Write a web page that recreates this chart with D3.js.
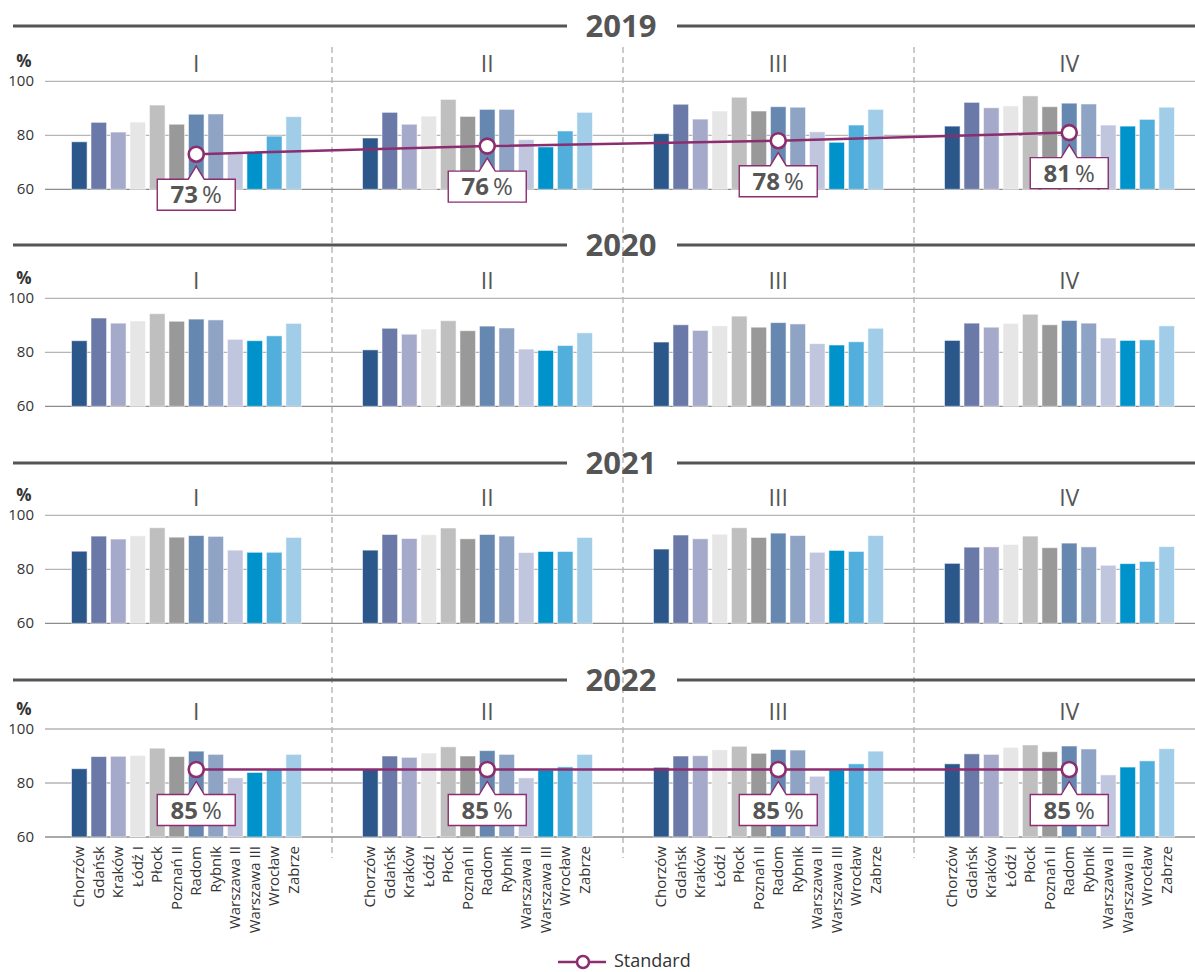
<!DOCTYPE html>
<html><head><meta charset="utf-8">
<script src="https://cdn.jsdelivr.net/npm/d3@7"></script>
<style>body{margin:0;background:#fff;} svg{display:block;font-family:"Open Sans","Noto Sans",sans-serif;}</style>
</head><body><svg id="c" width="1195" height="972"></svg>
<script>
const years = ["2019", "2020", "2021", "2022"];
const quarters = ["I", "II", "III", "IV"];
const cities = ["Chorzów", "Gdańsk", "Kraków", "Łódź I", "Płock", "Poznań II", "Radom", "Rybnik", "Warszawa II", "Warszawa III", "Wrocław", "Zabrze"];
const cityColors = ["#2c578b", "#6b79a8", "#a5a9ca", "#e6e6e6", "#bfbfbf", "#999999", "#6688b0", "#8fa3c5", "#c0c6de", "#0093cb", "#52aedb", "#a2cde9"];
const yTicks = [60, 80, 100];

const values2019 = [
  [77.6, 84.8, 81.2, 84.9, 91.2, 84.1, 87.8, 87.9, 73.1, 73.9, 79.7, 86.9],
  [79.0, 88.5, 84.1, 87.1, 93.3, 87.0, 89.6, 89.6, 78.4, 75.7, 81.6, 88.5],
  [80.6, 91.5, 86.0, 89.0, 94.1, 89.0, 90.6, 90.4, 81.3, 77.4, 83.8, 89.6],
  [83.4, 92.2, 90.2, 90.9, 94.6, 90.6, 91.9, 91.6, 83.8, 83.4, 85.9, 90.4]
];
const values2020 = [
  [84.3, 92.7, 90.8, 91.6, 94.3, 91.5, 92.3, 92.0, 84.8, 84.3, 86.1, 90.7],
  [80.9, 88.9, 86.7, 88.6, 91.7, 88.0, 89.7, 89.0, 81.2, 80.7, 82.5, 87.2],
  [83.8, 90.2, 88.1, 89.8, 93.4, 89.3, 91.0, 90.5, 83.2, 82.7, 83.9, 88.9],
  [84.4, 90.8, 89.3, 90.7, 94.1, 90.2, 91.8, 90.8, 85.3, 84.4, 84.6, 89.8]
];
const values2021 = [
  [86.7, 92.3, 91.2, 92.4, 95.4, 91.9, 92.5, 92.2, 87.1, 86.3, 86.3, 91.8],
  [87.1, 92.9, 91.4, 92.8, 95.3, 91.3, 92.9, 92.3, 86.2, 86.6, 86.6, 91.8],
  [87.5, 92.7, 91.3, 93.0, 95.4, 91.8, 93.4, 92.5, 86.3, 87.0, 86.6, 92.5],
  [82.2, 88.2, 88.3, 89.2, 92.3, 88.0, 89.7, 88.3, 81.5, 82.1, 82.9, 88.4]
];
const values2022 = [
  [85.3, 89.8, 89.9, 90.2, 92.9, 89.8, 91.8, 90.6, 81.9, 83.9, 85.0, 90.6],
  [85.1, 90.0, 89.5, 91.1, 93.4, 90.0, 92.0, 90.6, 81.9, 84.8, 86.0, 90.6],
  [85.8, 90.0, 90.1, 92.3, 93.6, 91.0, 92.4, 92.2, 82.5, 84.8, 87.1, 91.8],
  [87.1, 90.8, 90.6, 93.2, 94.1, 91.6, 93.7, 92.6, 83.0, 85.9, 88.2, 92.7]
];
const standard2019 = [73, 76, 78, 81];
const standard2022 = [85, 85, 85, 85];
const legendLabel = "Standard";

const allValues = [values2019, values2020, values2021, values2022];
const standards = [standard2019, null, null, standard2022];

// layout
const W = 1195;
const rowTop = [81.3, 298.3, 515.3, 729];
const rowHeader = [26, 245, 463, 680];
const plotH = 108;
const purple = "#8b2d6e";
const textGray = "#555";

const svg = d3.select("#c");
const xQ = d3.scaleBand().domain(quarters).range([41, 1205]).padding(0);
const xC = d3.scaleBand().domain(cities).range([30.5, 260.5]).paddingInner(0.2).paddingOuter(0);
const barCenter = (q, c) => xQ(q) + xC(c) + xC.bandwidth() / 2;

// dividers
svg.append("g").selectAll("line").data(quarters.slice(1)).join("line")
  .attr("x1", d => xQ(d)).attr("x2", d => xQ(d))
  .attr("y1", 47).attr("y2", 858)
  .attr("stroke", "#a8a8a8").attr("stroke-width", 1.2).attr("stroke-dasharray", "6,4");

years.forEach((yr, r) => {
  const g = svg.append("g");
  const y = d3.scaleLinear().domain([60, 100]).range([rowTop[r] + plotH, rowTop[r]]);
  const hy = rowHeader[r];
  // header
  g.append("line").attr("x1", 13).attr("x2", 567).attr("y1", hy).attr("y2", hy).attr("stroke", "#555").attr("stroke-width", 3);
  g.append("line").attr("x1", 677).attr("x2", W).attr("y1", hy).attr("y2", hy).attr("stroke", "#555").attr("stroke-width", 3);
  g.append("text").attr("x", 621).attr("y", hy + 11).attr("text-anchor", "middle")
    .attr("font-size", 31).attr("font-weight", 700).attr("fill", textGray).text(yr);
  // grid
  g.append("g").selectAll("line").data(yTicks).join("line")
    .attr("x1", 45).attr("x2", W).attr("y1", d => y(d)).attr("y2", d => y(d))
    .attr("stroke", d => d === 60 ? "#8c8c8c" : "#b5b5b5").attr("stroke-width", 1.3);
  g.append("g").selectAll("text").data(yTicks).join("text")
    .attr("x", 34).attr("y", d => y(d) + 5).attr("text-anchor", "end")
    .attr("font-size", 15).attr("fill", "#333").text(d => d);
  g.append("text").attr("x", 24).attr("y", rowTop[r] - 14).attr("text-anchor", "middle")
    .attr("font-size", 17).attr("font-weight", 700).attr("fill", "#333").text("%");
  // quarter labels
  g.append("g").selectAll("text").data(quarters).join("text")
    .attr("x", q => barCenter(q, "Radom")).attr("y", rowTop[r] - 9)
    .attr("text-anchor", "middle").attr("font-size", 23).attr("fill", textGray).text(q => q);
  // bars
  quarters.forEach((q, qi) => {
    g.append("g").selectAll("rect").data(allValues[r][qi]).join("rect")
      .attr("x", (d, i) => xQ(q) + xC(cities[i]))
      .attr("width", xC.bandwidth())
      .attr("y", d => y(d)).attr("height", d => y(60) - y(d))
      .attr("fill", (d, i) => cityColors[i])
      .attr("stroke", "rgba(255,255,255,0.55)").attr("stroke-width", 1);
  });
  // standard line
  const st = standards[r];
  if (st) {
    const pts = quarters.map((q, i) => [barCenter(q, "Radom"), y(st[i])]);
    g.append("path").attr("d", d3.line()(pts)).attr("fill", "none").attr("stroke", purple).attr("stroke-width", 2.5);
    g.append("g").selectAll("circle").data(pts).join("circle")
      .attr("cx", d => d[0]).attr("cy", d => d[1]).attr("r", 7.5)
      .attr("fill", "#fff").attr("stroke", purple).attr("stroke-width", 2.6);
    // callouts
    pts.forEach((p, i) => {
      const bx = p[0], top = p[1] + 25, bw = 78, bh = 31;
      const l = bx - bw / 2, rr = bx + bw / 2;
      const path = `M${l},${top}L${bx - 8},${top}L${bx},${top - 13}L${bx + 8},${top}L${rr},${top}L${rr},${top + bh}L${l},${top + bh}Z`;
      g.append("path").attr("d", path).attr("fill", "#fff").attr("stroke", purple).attr("stroke-width", 1.4);
      const t = g.append("text").attr("x", bx).attr("y", top + 24).attr("text-anchor", "middle")
        .attr("font-size", 24).attr("fill", textGray);
      t.append("tspan").attr("font-weight", 700).text(st[i]);
      t.append("tspan").text("\u2009%");
    });
  }
});

// x-axis labels
const axG = svg.append("g");
quarters.forEach(q => {
  axG.append("g").selectAll("text").data(cities).join("text")
    .attr("transform", c => `translate(${barCenter(q, c) + 5},846) rotate(-90)`)
    .attr("text-anchor", "end").attr("font-size", 15).attr("fill", "#333").text(c => c);
});

// legend
const lg = svg.append("g");
lg.append("line").attr("x1", 558).attr("x2", 606).attr("y1", 962).attr("y2", 962).attr("stroke", purple).attr("stroke-width", 2.5);
lg.append("circle").attr("cx", 583).attr("cy", 962).attr("r", 6).attr("fill", "#fff").attr("stroke", purple).attr("stroke-width", 2.5);
lg.append("text").attr("x", 614).attr("y", 967).attr("font-size", 18).attr("fill", "#333").text(legendLabel);
</script></body></html>
